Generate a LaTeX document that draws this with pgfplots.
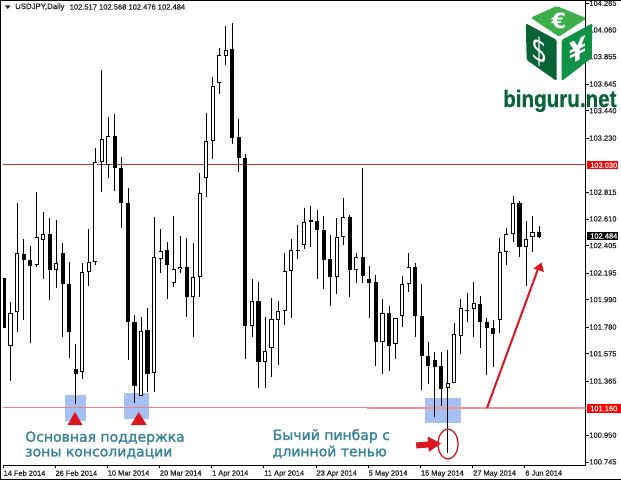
\documentclass[border=0pt]{standalone}
\usepackage{fontspec}
\usepackage{pgfplots}
\usepackage{pgfplotstable}
\pgfplotsset{compat=1.18}
\setmainfont{Liberation Sans}
\newfontfamily\annot[FakeBold=1.6]{DejaVu Sans}
\newfontfamily\tickfont[FakeBold=0.25]{Liberation Sans}
\newfontfamily\logofont[FakeBold=0.8]{Liberation Sans Bold}
\newfontfamily\dejavu{DejaVu Sans}

\definecolor{note}{RGB}{52,130,155}
\definecolor{boxblue}{RGB}{165,193,243}
\definecolor{levelpink}{RGB}{250,125,125}
\definecolor{levelred}{RGB}{205,45,45}
\definecolor{arrowred}{RGB}{218,22,30}
\definecolor{cubetop}{RGB}{60,175,75}
\definecolor{cubeleft}{RGB}{8,100,55}
\definecolor{cuberight}{RGB}{15,145,70}
\definecolor{ticktext}{RGB}{30,30,30}

% n bodytop bodybot high low
\pgfplotstableread{
n top bot hi lo
1 101.888 101.634 101.972 101.366
2 102.348 101.895 102.732 101.742
5 102.471 102.256 102.816 102.241
6 102.494 102.448 102.663 102.149
8 102.271 102.218 102.602 102.080
12 102.202 101.435 102.271 101.381
13 102.279 102.202 102.532 102.095
14 103.047 102.279 103.154 102.256
15 103.223 103.047 103.753 102.816
16 103.246 103.024 103.392 102.924
21 101.750 101.251 101.857 101.251
23 102.318 101.427 102.625 101.281
24 102.364 102.302 102.532 102.195
26 102.225 102.118 102.632 102.087
27 102.241 102.225 102.479 102.195
29 102.164 102.011 102.425 101.704
30 102.809 102.164 102.962 102.011
31 103.208 102.924 103.423 102.778
32 103.630 103.208 103.699 103.070
33 103.868 103.653 103.922 103.569
34 103.906 103.860 104.090 103.791
38 101.980 101.788 102.149 101.704
40 101.596 101.512 101.857 101.312
41 101.842 101.619 102.003 101.397
42 101.903 101.834 101.980 101.489
43 102.210 101.903 102.348 101.796
44 102.371 102.210 102.456 101.849
46 102.586 102.410 102.694 102.379
51 102.471 102.164 102.617 102.034
52 102.625 102.471 102.770 102.410
54 102.318 102.218 102.348 102.118
58 101.888 101.665 101.995 101.420
60 101.849 101.650 101.849 101.535
61 102.110 101.865 102.172 101.780
62 102.241 102.110 102.348 102.049
68 101.351 101.312 101.604 100.813
69 101.727 101.351 101.811 101.351
70 101.926 101.711 101.995 101.573
72 101.964 101.918 102.126 101.704
76 102.356 101.834 102.463 101.734
77 102.494 102.356 102.540 102.256
78 102.732 102.494 102.786 102.433
80 102.456 102.394 102.594 102.095
81 102.509 102.471 102.632 102.356
}\bull

\pgfplotstableread{
n top bot hi lo
0 102.156 101.773 102.156 101.773
3 102.341 102.295 102.456 101.834
4 102.295 102.248 102.402 101.657
7 102.494 102.218 102.617 101.988
9 102.348 102.110 102.425 101.704
10 102.110 101.742 102.279 101.542
11 101.458 101.420 101.650 101.189
17 103.246 103.001 103.415 102.824
18 103.001 102.732 103.085 102.540
19 102.732 101.819 102.847 101.527
20 101.819 101.327 101.872 101.197
22 101.757 101.420 101.926 101.281
25 102.371 102.256 102.433 101.995
28 102.241 102.011 102.463 101.857
35 103.914 103.231 104.113 103.185
36 103.239 103.077 103.377 102.970
37 103.077 101.788 103.108 101.535
39 101.980 101.512 102.126 101.312
45 102.371 102.364 102.563 102.302
47 102.602 102.586 102.709 102.394
48 102.594 102.525 102.678 102.149
49 102.525 102.295 102.632 102.072
50 102.302 102.164 102.486 101.941
53 102.625 102.218 102.640 102.011
55 102.318 102.172 103.001 102.118
56 102.149 102.118 102.248 101.849
57 102.126 101.665 102.179 101.481
59 101.888 101.634 101.941 101.443
63 102.241 101.865 102.271 101.704
64 101.865 101.558 102.110 101.297
65 101.558 101.481 101.665 101.343
66 101.527 101.473 101.588 101.090
67 101.481 101.304 101.588 101.174
71 101.911 101.903 102.041 101.819
73 101.957 101.819 102.018 101.619
74 101.819 101.773 101.849 101.412
75 101.773 101.727 101.834 101.473
79 102.732 102.394 102.747 102.318
82 102.509 102.471 102.555 102.463
}\bear

\pgfplotsset{
  wick/.style={draw=none, forget plot, mark=none,
    error bars/.cd, y dir=plus, y explicit, error mark=none,
    error bar style={draw=black, line width=0.9pt}},
  body/.style={draw=none, forget plot, mark=none,
    error bars/.cd, y dir=plus, y explicit, error mark=none,
    error bar style={draw=#1, line width=4.1pt}},
  inner/.style={draw=none, forget plot, mark=none,
    error bars/.cd, y dir=plus, y explicit, error mark=none,
    error bar style={draw=white, line width=2.4pt}},
}

\begin{document}
\begin{tikzpicture}
  \path[use as bounding box] (0,0) rectangle (621pt,480pt);
  \fill[white] (0,0) rectangle (621pt,480pt);

  % blue zones sit under the candles, picture coordinates
  \begin{scope}[x=1pt,y=-1pt,yshift=480pt]
    \fill[boxblue] (65,395) rectangle (86,421);
    \fill[boxblue] (124,393) rectangle (148.5,419);
    \fill[boxblue] (425,398) rectangle (461,423);
  \end{scope}

  \begin{axis}[
      at={(3pt,15pt)}, anchor=south west,
      scale only axis, width=582.7pt, height=464.5pt,
      xmin=-0.153, xmax=89.15, ymin=100.721, ymax=104.286,
      clip mode=individual,
      axis x line*=bottom, axis y line*=right,
      axis line style={line width=0.9pt, black, -},
      tick align=outside, major tick length=3pt,
      tick style={black, line width=0.7pt},
      xtick={-0.15,7.8,15.8,23.8,31.8,39.8,47.8,55.8,63.8,71.8,79.8},
      xticklabels={14 Feb 2014,26 Feb 2014,10 Mar 2014,20 Mar 2014,1 Apr 2014,11 Apr 2014,23 Apr 2014,5 May 2014,15 May 2014,27 May 2014,6 Jun 2014},
      xticklabel style={anchor=north west, inner sep=0pt, xshift=0.5pt, yshift=-2.2pt,
        font=\tickfont\fontsize{7.4}{8.5}\selectfont, text=ticktext},
      ytick={104.265,104.060,103.855,103.645,103.440,103.230,102.815,102.610,102.405,102.195,101.990,101.780,101.575,101.365,100.950,100.745},
      yticklabels={104.265,104.060,103.855,103.645,103.440,103.230,102.815,102.610,102.405,102.195,101.990,101.780,101.575,101.365,100.950,100.745},
      yticklabel style={anchor=west, inner sep=0pt, xshift=0.5pt,
        font=\tickfont\fontsize{7.5}{8.5}\selectfont, text=ticktext},
    ]
    \addplot[levelred, line width=0.9pt, forget plot] coordinates {(-0.15,103.03) (89.15,103.03)};
    \addplot[levelpink, line width=1.3pt, forget plot] coordinates {(-0.15,101.16) (55.6,101.16)};
    \addplot[levelpink!85!white, line width=1.6pt, forget plot] coordinates {(55.6,101.16) (89.15,101.16)};

    \addplot[wick] table[x=n, y=lo, y error plus expr=\thisrow{hi}-\thisrow{lo}] {\bull};
    \addplot[wick] table[x=n, y=lo, y error plus expr=\thisrow{hi}-\thisrow{lo}] {\bear};
    \addplot[body=black] table[x=n, y=bot, y error plus expr=\thisrow{top}-\thisrow{bot}] {\bear};
    \addplot[body=black] table[x=n, y=bot, y error plus expr=\thisrow{top}-\thisrow{bot}] {\bull};
    \addplot[inner] table[x=n, y expr=\thisrow{bot}+0.006, y error plus expr=\thisrow{top}-\thisrow{bot}-0.012] {\bull};
  \end{axis}

  \begin{scope}[x=1pt,y=-1pt,yshift=480pt]
    % window border
    \draw[black, line width=1pt] (0,0.5) -- (621,0.5);
    \draw[black, line width=1pt] (0.5,0) -- (0.5,480);
    \draw[black, line width=1pt] (0,479) -- (621,479);

    % header
    \fill[black!85] (5,5.5) -- (10.5,5.5) -- (7.75,9) -- cycle;
    \node[anchor=west, inner sep=0pt, text=ticktext, font=\tickfont\fontsize{7.8}{8.5}\selectfont] at (15,7) {USDJPY,Daily};
    \node[anchor=west, inner sep=0pt, text=ticktext, font=\tickfont\fontsize{7.55}{8.5}\selectfont] at (69.5,7) {102.517 102.568 102.476 102.484};

    % price boxes
    \fill[red] (586.5,161) rectangle (618,169.5);
    \node[anchor=west, inner sep=0pt, text=white, font=\tickfont\fontsize{7.5}{8.5}\selectfont] at (590,165.2) {103.030};
    \fill[black] (586.5,232) rectangle (618,240);
    \node[anchor=west, inner sep=0pt, text=white, font=\tickfont\fontsize{7.5}{8.5}\selectfont] at (590,236) {102.484};
    \fill[red] (586.5,404) rectangle (621,412.5);
    \node[anchor=west, inner sep=0pt, text=white, font=\tickfont\fontsize{7.5}{8.5}\selectfont] at (590,408.5) {101.160};

    % triangles under the zones
    \fill[arrowred] (75,412) -- (82.5,425) -- (67.5,425) -- cycle;
    \fill[arrowred] (138.7,412) -- (146.7,425) -- (131,425) -- cycle;

    % pinbar marker
    \draw[arrowred, line width=1.3pt] (448,444) ellipse (10 and 15);
    \fill[arrowred] (416,442.5) -- (428,441.5) -- (427.5,436.5) -- (441,443.5) -- (428.5,452) -- (428.5,447.5) -- (416.5,448.5) -- cycle;

    % rising arrow
    \draw[arrowred, line width=2pt] (487,408) -- (538,269);
    \fill[arrowred] (541.5,262.5) -- (544,272) -- (533.5,268.5) -- cycle;

    % notes
    \node[anchor=west, inner sep=0pt, text=note, font=\annot\fontsize{14}{15}\selectfont] at (25,438) {Основная поддержка};
    \node[anchor=west, inner sep=0pt, text=note, font=\annot\fontsize{14}{15}\selectfont] at (25,453.5) {зоны консолидации};
    \node[anchor=west, inner sep=0pt, text=note, font=\annot\fontsize{14}{15}\selectfont] at (272.5,436) {Бычий пинбар с};
    \node[anchor=west, inner sep=0pt, text=note, font=\annot\fontsize{14}{15}\selectfont] at (272.5,452) {длинной тенью};

    % logo
    \fill[cubetop, rounded corners=1.5pt] (530.7,17.7) -- (556.7,6) -- (586.7,18.3) -- (559,36.7) -- cycle;
    \fill[cubeleft, rounded corners=1.5pt] (525.7,23.3) -- (556.7,40) -- (556.7,81) -- (526.7,60) -- cycle;
    \fill[cuberight, rounded corners=1.5pt] (561.7,40) -- (592.3,23.3) -- (591.7,58) -- (561.7,81) -- cycle;
    \node[text=white, inner sep=0pt, font=\dejavu\bfseries\fontsize{21}{22}\selectfont] at (559,20.7) {€};
    \node[text=white, inner sep=0pt, xscale=0.8, yslant=-0.4, font=\dejavu\fontsize{32}{33}\selectfont] at (539.5,51.5) {\$};
    \node[text=white, inner sep=0pt, xscale=0.8, yslant=0.4, font=\dejavu\bfseries\fontsize{30}{31}\selectfont] at (578,50) {¥};
    \node[anchor=base west, inner sep=0pt, text=cubeleft, yscale=1.15, font=\logofont\fontsize{20.6}{22}\selectfont] at (503,107) {binguru.net};
  \end{scope}
\end{tikzpicture}
\end{document}
